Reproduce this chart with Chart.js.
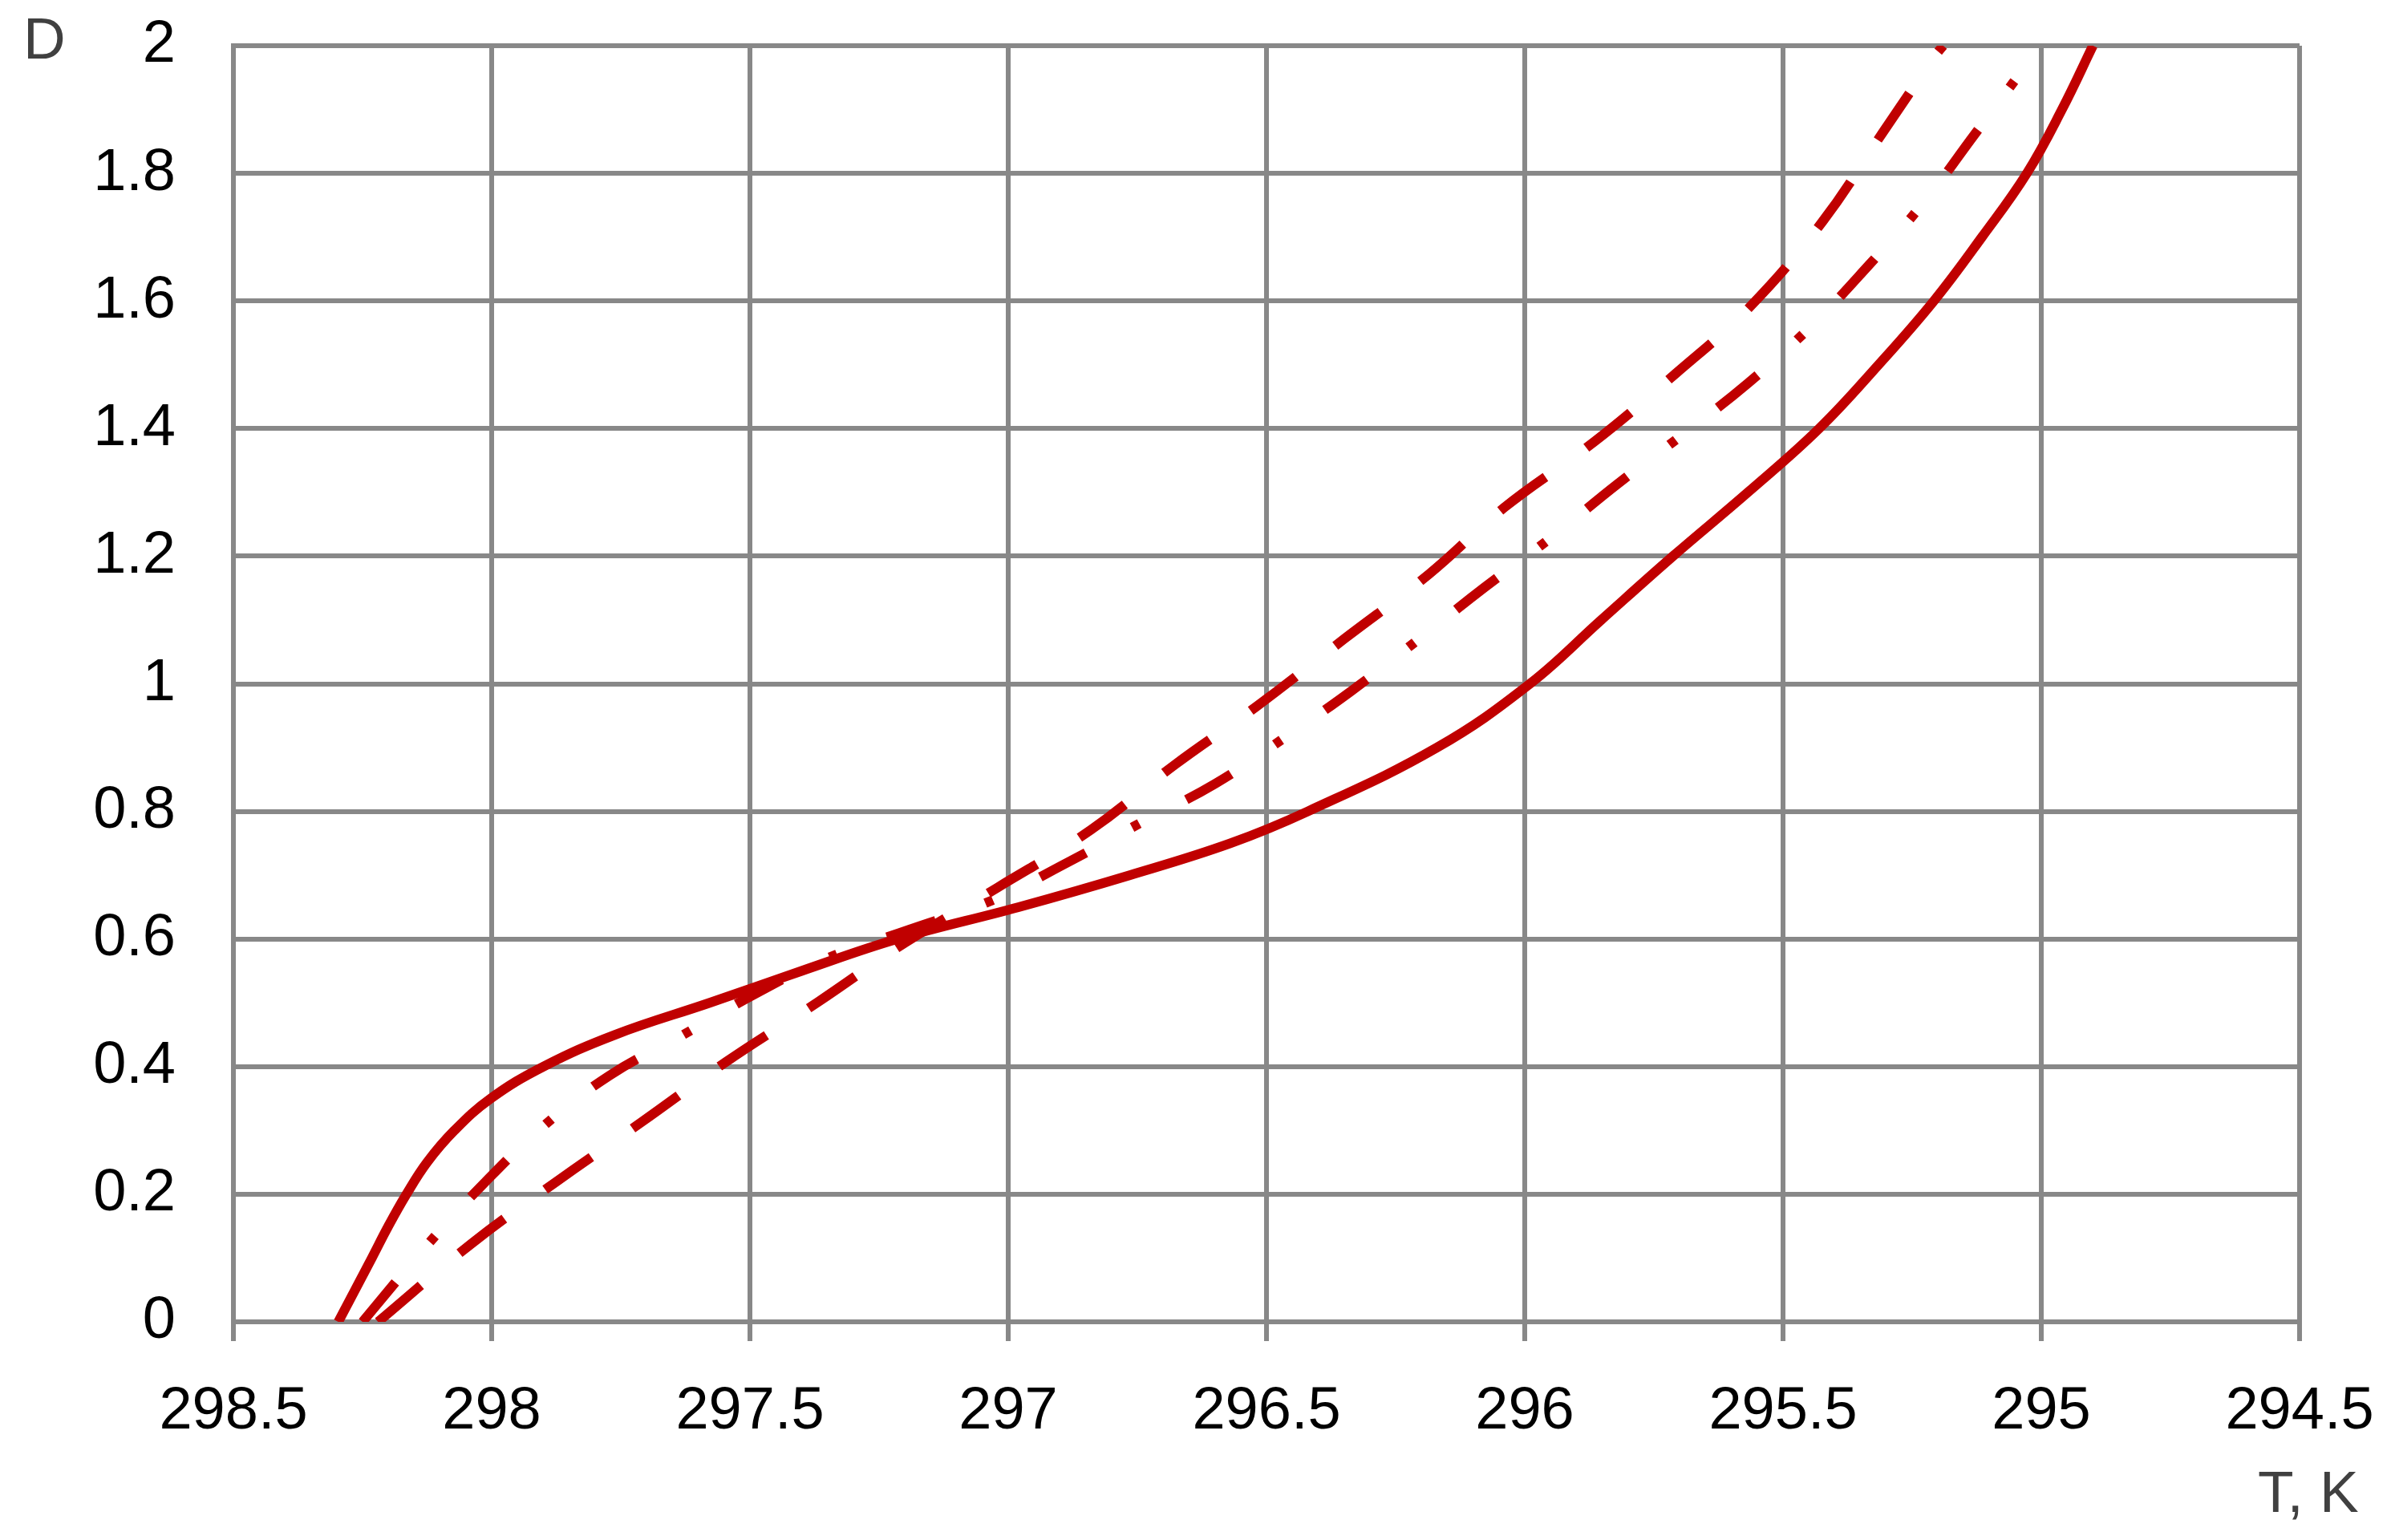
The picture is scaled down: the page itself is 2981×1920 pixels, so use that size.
<!DOCTYPE html>
<html>

<head>
    <style>
        html, body {
            margin: 0;
            padding: 0;
            background: #ffffff;
        }

        #wrap {
            width: 2981px;
            height: 1920px;
        }
    </style>
</head>

<body>
    <div id="wrap">
        <canvas id="dChart"></canvas>
    </div>

    <script src="https://cdn.jsdelivr.net/npm/chart.js@4/dist/chart.umd.min.js"></script>
    <script>
        // T, K (x) and D (y), one pair of arrays per curve
        const solidT = [298.297, 298.232, 298.2, 298.165, 298.125, 298.072, 298.002, 297.9, 297.761, 297.578,
            297.4, 297.215, 296.98, 296.765, 296.57, 296.42, 296.17, 295.99, 295.852, 295.713,
            295.568, 295.43, 295.315, 295.208, 295.115, 295.028, 294.96, 294.9];
        const solidD = [0, 0.1, 0.15, 0.2, 0.25, 0.3, 0.35, 0.4, 0.45, 0.5,
            0.55, 0.6, 0.65, 0.7, 0.75, 0.8, 0.9, 1.0, 1.1, 1.2,
            1.3, 1.4, 1.5, 1.6, 1.7, 1.8, 1.9, 2.0];

        const dashedT = [298.22, 298.04, 297.876, 297.708, 297.547, 297.367, 297.2, 297.02, 296.84, 296.676,
            296.52, 296.35, 296.185, 296.04, 295.866, 295.708, 295.565, 295.423, 295.306, 295.205, 295.19];
        const dashedD = [0, 0.122, 0.219, 0.314, 0.407, 0.502, 0.594, 0.681, 0.771, 0.874,
            0.964, 1.07, 1.172, 1.276, 1.379, 1.486, 1.59, 1.725, 1.865, 1.985, 2.0];

        const dashDotT = [298.25, 298.123, 298.015, 297.898, 297.772, 297.629, 297.49, 297.35, 297.19, 297.03,
            296.885, 296.746, 296.6, 296.464, 296.337, 296.205, 296.078, 295.949, 295.822, 295.692,
            295.568, 295.446, 295.334, 295.227, 295.13, 295.036, 295.0];
        const dashDotD = [0, 0.122, 0.217, 0.308, 0.386, 0.45, 0.514, 0.57, 0.615, 0.661,
            0.72, 0.781, 0.843, 0.916, 0.988, 1.07, 1.151, 1.229, 1.312, 1.392,
            1.471, 1.56, 1.656, 1.755, 1.86, 1.962, 2.0];

        const xTicks = [298.5, 298, 297.5, 297, 296.5, 296, 295.5, 295, 294.5];
        const yTicks = [0, 0.2, 0.4, 0.6, 0.8, 1, 1.2, 1.4, 1.6, 1.8, 2];

        const xTitle = 'T, K';
        const yTitle = 'D';

        const lineColor = '#c00000';
        const gridColor = '#888888';
        const fontFamily = "'Liberation Sans', Arial, sans-serif";

        function toPoints(xs, ys) {
            return xs.map((x, i) => ({ x: x, y: ys[i] }));
        }

        function curve(data, dash) {
            return {
                data: data,
                showLine: true,
                borderColor: lineColor,
                backgroundColor: lineColor,
                borderWidth: 12,
                borderDash: dash,
                borderCapStyle: 'butt',
                pointRadius: 0,
                tension: 0.4,
                fill: false
            };
        }

        // corner labels: "D" above the y axis, "T, K" under the right end of the x axis
        const cornerTitles = {
            id: 'cornerTitles',
            afterDraw(chart) {
                const ctx = chart.ctx;
                ctx.save();
                ctx.font = '73px ' + fontFamily;
                ctx.fillStyle = '#404040';
                ctx.textAlign = 'left';
                ctx.textBaseline = 'alphabetic';
                ctx.fillText(yTitle, 29, 73);
                ctx.fillText(xTitle, 2815, 1885);
                ctx.restore();
            }
        };

        const chart = new Chart(document.getElementById('dChart'), {
            type: 'scatter',
            data: {
                datasets: [
                    curve(toPoints(solidT, solidD), []),
                    curve(toPoints(dashedT, dashedD), [70, 63]),
                    curve(toPoints(dashDotT, dashDotD), [64, 66, 10, 66])
                ]
            },
            options: {
                responsive: true,
                maintainAspectRatio: false,
                animation: false,
                layout: {
                    padding: { top: 57, right: 114, bottom: 0, left: 0 }
                },
                plugins: {
                    legend: { display: false },
                    tooltip: { enabled: false }
                },
                scales: {
                    x: {
                        type: 'linear',
                        reverse: true,
                        min: 294.5,
                        max: 298.5,
                        afterBuildTicks: scale => {
                            scale.ticks = xTicks.map(v => ({ value: v }));
                        },
                        afterFit: scale => {
                            // fixed box, the layout padding sets the plot edges
                            scale.height = 272;
                            scale.paddingLeft = 0;
                            scale.paddingRight = 0;
                        },
                        grid: {
                            color: gridColor,
                            lineWidth: 6,
                            tickLength: 24,
                            tickColor: gridColor
                        },
                        border: {
                            display: true,
                            color: gridColor,
                            width: 6
                        },
                        ticks: {
                            color: '#000000',
                            padding: 44,
                            maxRotation: 0,
                            font: { family: fontFamily, size: 74 },
                            callback: value => String(value)
                        }
                    },
                    y: {
                        type: 'linear',
                        min: 0,
                        max: 2,
                        afterBuildTicks: scale => {
                            scale.ticks = yTicks.map(v => ({ value: v }));
                        },
                        afterFit: scale => {
                            scale.width = 291;
                            scale.paddingTop = 0;
                            scale.paddingBottom = 0;
                        },
                        grid: {
                            color: gridColor,
                            lineWidth: 6,
                            drawTicks: false
                        },
                        border: {
                            display: true,
                            color: gridColor,
                            width: 6
                        },
                        ticks: {
                            color: '#000000',
                            padding: 72,
                            font: { family: fontFamily, size: 74 },
                            callback: value => String(value)
                        }
                    }
                }
            },
            plugins: [cornerTitles]
        });
    </script>
</body>

</html>
